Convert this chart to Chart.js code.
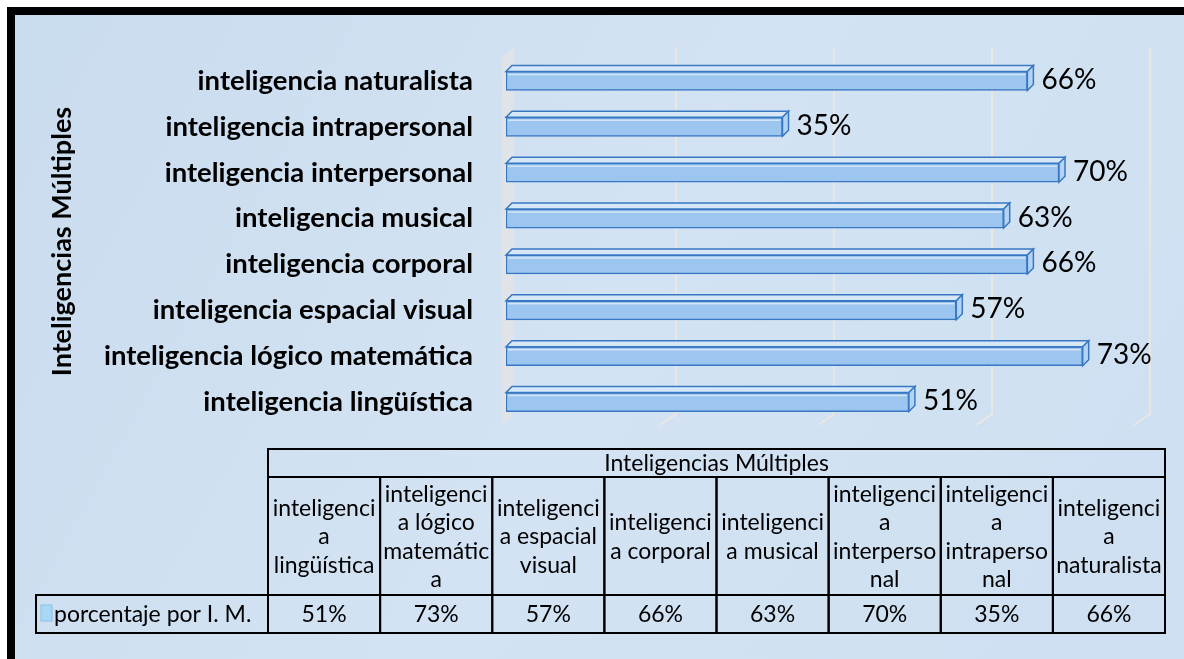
<!DOCTYPE html>
<html lang="es">
<head>
<meta charset="utf-8">
<title>Inteligencias Múltiples</title>
<script src="https://cdn.jsdelivr.net/npm/chart.js@4.4.1/dist/chart.umd.min.js"></script>
<style>
  html, body { margin: 0; padding: 0; background: #fff; }
  canvas { display: block; }
</style>
</head>
<body>
<canvas id="myChart" width="1184" height="659"></canvas>
<script>
const categories = [
  'inteligencia lingüística',
  'inteligencia lógico matemática',
  'inteligencia espacial visual',
  'inteligencia corporal',
  'inteligencia musical',
  'inteligencia interpersonal',
  'inteligencia intrapersonal',
  'inteligencia naturalista'
];
const percentages = [51, 73, 57, 66, 63, 70, 35, 66];
const seriesName = 'porcentaje por I. M.';
const axisTitle = 'Inteligencias Múltiples';
const xMax = 80;
const xStep = 20;
// header cells of the data table, wrapped as in the picture
const tableHeaders = [
  ['inteligenci', 'a', 'lingüística'],
  ['inteligenci', 'a lógico', 'matemátic', 'a'],
  ['inteligenci', 'a espacial', 'visual'],
  ['inteligenci', 'a corporal'],
  ['inteligenci', 'a musical'],
  ['inteligenci', 'a', 'interperso', 'nal'],
  ['inteligenci', 'a', 'intraperso', 'nal'],
  ['inteligenci', 'a', 'naturalista']
];

const FONT = 'Lato, "Open Sans", sans-serif';
const DEPTH = 6;
const WALL = { dx: 12, dy: 11 };
const PAD_LEFT = 42;

const background = {
  id: 'background',
  beforeDraw(chart) {
    const { ctx, width, height } = chart;
    ctx.save();
    ctx.fillStyle = '#fff';
    ctx.fillRect(0, 0, width, height);
    const grad = ctx.createLinearGradient(0, 0, width, height);
    grad.addColorStop(0, '#c9dbee');
    grad.addColorStop(0.5, '#d3e3f3');
    grad.addColorStop(1, '#cddff1');
    ctx.fillStyle = grad;
    ctx.fillRect(15, 15, width - 15, height - 15);
    ctx.fillStyle = '#000';
    ctx.fillRect(7, 7, width - 7, 8);
    ctx.fillRect(7, 7, 8, height - 7);
    ctx.restore();
  }
};

const walls = {
  id: 'walls',
  beforeDatasetsDraw(chart) {
    const { ctx, chartArea } = chart;
    const x = chart.scales.x;
    const x0 = x.getPixelForValue(0) - 4;
    ctx.save();
    ctx.fillStyle = 'rgba(228,228,228,0.75)';
    ctx.beginPath();
    ctx.moveTo(x0, chartArea.top);
    ctx.lineTo(x0 + WALL.dx, chartArea.top - WALL.dy);
    ctx.lineTo(x0 + WALL.dx, chartArea.bottom - WALL.dy);
    ctx.lineTo(x0, chartArea.bottom);
    ctx.closePath();
    ctx.fill();

    ctx.strokeStyle = 'rgba(244,232,218,0.95)';
    ctx.lineWidth = 1.5;
    x.ticks.forEach(t => {
      if (t.value === 0) return;
      const px = x.getPixelForValue(t.value);
      ctx.beginPath();
      ctx.moveTo(px + WALL.dx, chartArea.top - WALL.dy);
      ctx.lineTo(px + WALL.dx, chartArea.bottom - WALL.dy);
      ctx.lineTo(px - 4, chartArea.bottom);
      ctx.stroke();
    });
    ctx.restore();
  }
};

const bars3d = {
  id: 'bars3d',
  afterDatasetsDraw(chart) {
    const { ctx } = chart;
    const meta = chart.getDatasetMeta(0);
    ctx.save();
    ctx.lineWidth = 1.5;
    meta.data.forEach((bar, i) => {
      const { x, y, base, height } = bar.getProps(['x', 'y', 'base', 'height'], true);
      const top = y - height / 2;
      const bottom = y + height / 2;
      ctx.strokeStyle = '#3877c2';
      // top face
      ctx.fillStyle = '#d6e8f8';
      ctx.beginPath();
      ctx.moveTo(base, top);
      ctx.lineTo(base + DEPTH, top - DEPTH);
      ctx.lineTo(x + DEPTH, top - DEPTH);
      ctx.lineTo(x, top);
      ctx.closePath();
      ctx.fill();
      ctx.stroke();
      // right face
      ctx.fillStyle = '#b4d3f2';
      ctx.beginPath();
      ctx.moveTo(x, top);
      ctx.lineTo(x + DEPTH, top - DEPTH);
      ctx.lineTo(x + DEPTH, bottom - DEPTH);
      ctx.lineTo(x, bottom);
      ctx.closePath();
      ctx.fill();
      ctx.stroke();
      // highlight on the front face
      ctx.strokeStyle = 'rgba(255,255,255,0.55)';
      ctx.beginPath();
      ctx.moveTo(base + 2, top + 3);
      ctx.lineTo(x - 2, top + 3);
      ctx.stroke();
      // value label
      ctx.fillStyle = '#000';
      ctx.font = '28px ' + FONT;
      ctx.textAlign = 'left';
      ctx.textBaseline = 'middle';
      ctx.fillText(percentages[i] + '%', x + DEPTH + 8, y - 1);
    });
    ctx.restore();
  }
};

const dataTable = {
  id: 'dataTable',
  afterDraw(chart) {
    const { ctx } = chart;
    const left = 268, right = 1165, labelLeft = 36;
    const titleTop = 449, headTop = 477, dataTop = 595, bottom = 633;
    const colW = (right - left) / categories.length;
    const lineH = 28.5;
    ctx.save();
    ctx.strokeStyle = '#000';
    ctx.lineWidth = 2;
    ctx.fillStyle = '#000';
    ctx.font = '23px ' + FONT;
    ctx.textAlign = 'center';
    ctx.textBaseline = 'middle';

    ctx.strokeRect(left, titleTop, right - left, headTop - titleTop);
    ctx.fillText(axisTitle, (left + right) / 2, (titleTop + headTop) / 2 + 1);

    ctx.strokeRect(labelLeft, dataTop, left - labelLeft, bottom - dataTop);
    for (let i = 0; i < categories.length; i++) {
      const cx = left + colW * i;
      ctx.strokeRect(cx, headTop, colW, dataTop - headTop);
      ctx.strokeRect(cx, dataTop, colW, bottom - dataTop);
      const lines = tableHeaders[i];
      const mid = (headTop + dataTop) / 2;
      lines.forEach((ln, j) => {
        ctx.fillText(ln, cx + colW / 2, mid + (j - (lines.length - 1) / 2) * lineH + 1);
      });
      ctx.fillText(percentages[i] + '%', cx + colW / 2, (dataTop + bottom) / 2 + 1);
    }

    // legend key + series name
    ctx.fillStyle = '#a8d8f6';
    ctx.fillRect(41, 605, 11, 16);
    ctx.strokeStyle = '#8cc0e6';
    ctx.lineWidth = 1;
    ctx.strokeRect(41, 605, 11, 16);
    ctx.fillStyle = '#000';
    ctx.textAlign = 'left';
    ctx.fillText(seriesName, 54, (dataTop + bottom) / 2 + 1);
    ctx.restore();
  }
};

const ctx = document.getElementById('myChart');
new Chart(ctx, {
  type: 'bar',
  data: {
    labels: categories,
    datasets: [{
      label: seriesName,
      data: percentages,
      backgroundColor: '#9cc6ef',
      borderColor: '#3877c2',
      borderWidth: 1.5,
      borderSkipped: false,
      barThickness: 19
    }]
  },
  options: {
    indexAxis: 'y',
    responsive: false,
    animation: false,
    layout: { padding: { left: PAD_LEFT, top: 58, right: 1184 - 1138, bottom: 659 - 425 } },
    plugins: {
      legend: { display: false },
      tooltip: { enabled: false }
    },
    scales: {
      x: {
        display: false,
        min: 0,
        max: xMax,
        ticks: { stepSize: xStep }
      },
      y: {
        reverse: true,
        afterFit(scale) { scale.width = 506 - PAD_LEFT; },
        grid: { display: false, drawTicks: false },
        border: { display: false },
        ticks: {
          color: '#000',
          padding: 33,
          font: { family: FONT, size: 27.5, weight: 'bold' }
        },
        title: {
          display: true,
          text: axisTitle,
          color: '#000',
          font: { family: FONT, size: 27, weight: 'bold' }
        }
      }
    }
  },
  plugins: [background, walls, bars3d, dataTable]
});
</script>
</body>
</html>
